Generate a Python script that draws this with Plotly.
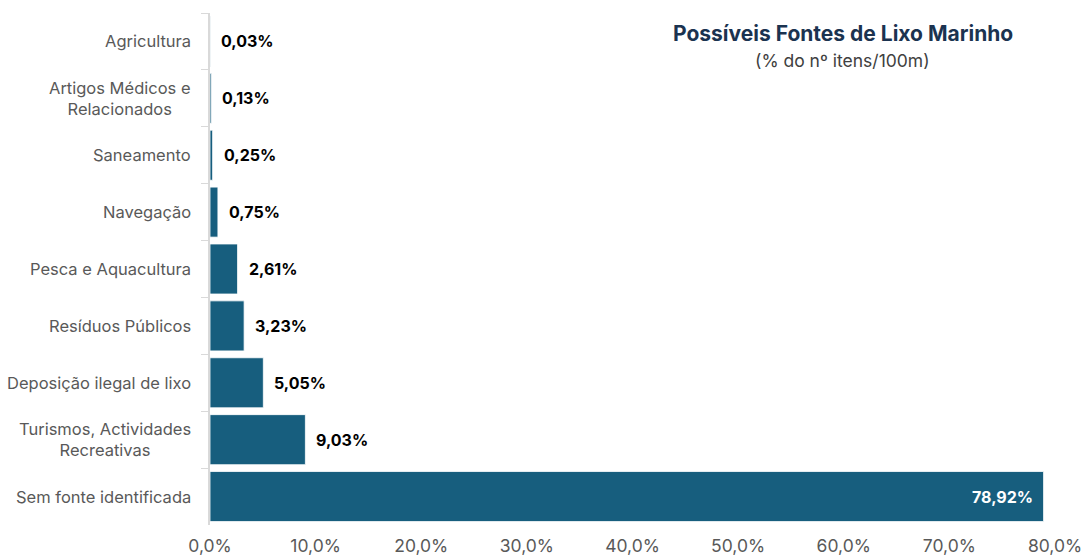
import plotly.graph_objects as go

# Source categories, listed top to bottom
categories = [
    "Agricultura",
    "Artigos Médicos e<br>Relacionados",
    "Saneamento",
    "Navegação",
    "Pesca e Aquacultura",
    "Resíduos Públicos",
    "Deposição ilegal de lixo",
    "Turismos, Actividades<br>Recreativas",
    "Sem fonte identificada",
]
shares = [0.03, 0.13, 0.25, 0.75, 2.61, 3.23, 5.05, 9.03, 78.92]
value_labels = ["0,03%", "0,13%", "0,25%", "0,75%", "2,61%", "3,23%", "5,05%", "9,03%", "78,92%"]
tick_vals = [0, 10, 20, 30, 40, 50, 60, 70, 80]
tick_text = ["0,0%", "10,0%", "20,0%", "30,0%", "40,0%", "50,0%", "60,0%", "70,0%", "80,0%"]

BAR = "#175E7E"
FONT = "Inter, Lato, 'Open Sans', sans-serif"

fig = go.Figure(
    go.Bar(
        x=shares,
        y=categories,
        orientation="h",
        marker=dict(color=BAR, line=dict(color="white", width=0.8)),
        hoverinfo="skip",
    )
)

annotations = []

# Category labels, centred line by line, right of them the axis
for cat in categories:
    annotations.append(dict(
        xref="paper", x=0, y=cat, text=cat, showarrow=False,
        xanchor="right", align="center", xshift=-17,
        font=dict(family=FONT, size=16.5, color="#595959"),
    ))

# Value labels: outside for short bars, inside (white) for the long one
for cat, val, lab in zip(categories, shares, value_labels):
    if val > 40:
        annotations.append(dict(
            x=val, y=cat, text=f"<b>{lab}</b>", showarrow=False,
            xanchor="right", xshift=-9,
            font=dict(family=FONT, size=16, color="white"),
        ))
    else:
        annotations.append(dict(
            x=val, y=cat, text=f"<b>{lab}</b>", showarrow=False,
            xanchor="left", xshift=9,
            font=dict(family=FONT, size=16, color="#000000"),
        ))

annotations.append(dict(
    xref="paper", yref="paper", x=0.749, y=1.0, xanchor="center", yanchor="bottom", yshift=-35,
    text="<b>Possíveis Fontes de Lixo Marinho</b>", showarrow=False,
    font=dict(family=FONT, size=21, color="#1B3350"),
))
annotations.append(dict(
    xref="paper", yref="paper", x=0.749, y=1.0, xanchor="center", yanchor="bottom", yshift=-60,
    text="(% do nº itens/100m)", showarrow=False,
    font=dict(family=FONT, size=17.5, color="#404040"),
))

fig.update_layout(
    width=1082,
    height=556,
    margin=dict(l=210, r=27, t=13, b=31),
    paper_bgcolor="white",
    plot_bgcolor="white",
    showlegend=False,
    bargap=0.12,
    annotations=annotations,
    font=dict(family=FONT, size=16, color="#595959"),
    xaxis=dict(
        range=[0, 80],
        tickvals=tick_vals,
        ticktext=tick_text,
        showgrid=False,
        zeroline=False,
        showline=False,
        automargin=False,
        ticklabeloverflow="allow",
        ticklabelstandoff=8,
        tickfont=dict(family=FONT, size=17.5, color="#595959"),
        fixedrange=True,
    ),
    yaxis=dict(
        autorange="reversed",
        automargin=False,
        showgrid=False,
        showline=True,
        linecolor="#D9D9D9",
        linewidth=1.5,
        ticks="outside",
        tickson="boundaries",
        ticklen=7,
        tickcolor="#D9D9D9",
        showticklabels=False,
        fixedrange=True,
    ),
)

fig.write_html("out.html")
